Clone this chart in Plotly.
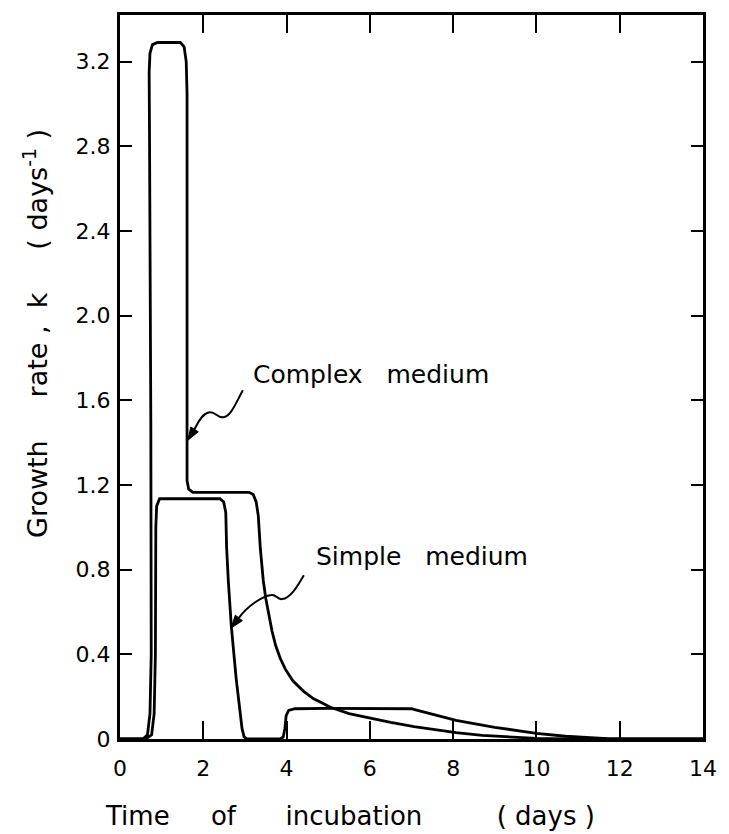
import plotly.graph_objects as go

# ---- data ----
complex_x = [0, 0.55, 0.66, 0.72, 0.75, 0.74, 0.71, 0.70, 0.72, 0.78, 0.9, 1.45, 1.54, 1.59, 1.61, 1.61, 1.60, 1.61, 1.65, 1.75,
             3.1, 3.2, 3.27, 3.32, 3.37, 3.44, 3.5, 3.56, 3.65, 3.74, 3.85, 3.97, 4.15, 4.41, 4.65, 4.88, 5.05, 5.5, 6.06, 6.5,
             7.06, 7.5, 8.07, 8.7, 9.3, 10.0, 10.7, 14.0]
complex_y = [0, 0, 0.02, 0.12, 0.4, 1.5, 2.8, 3.15, 3.24, 3.28, 3.29, 3.29, 3.27, 3.2, 3.05, 2.2, 1.4, 1.22, 1.18, 1.165,
             1.165, 1.155, 1.12, 1.056, 0.90, 0.75, 0.665, 0.595, 0.51, 0.44, 0.38, 0.33, 0.275, 0.225, 0.19, 0.168, 0.15,
             0.12, 0.096, 0.078, 0.058, 0.045, 0.03, 0.017, 0.009, 0.003, 0, 0]

simple_x = [0, 0.62, 0.76, 0.82, 0.85, 0.86, 0.88, 0.95, 2.4, 2.49, 2.54, 2.56, 2.6, 2.675, 2.79, 2.87, 2.93, 2.98, 3.05,
            3.85, 3.92, 3.96, 3.99, 4.05, 4.2, 5.0, 7.0, 7.1, 8.07, 9.0, 9.5, 10.0, 10.7, 11.3, 11.7, 12.2, 14.0]
simple_y = [0, 0, 0.02, 0.12, 0.4, 1.0, 1.1, 1.135, 1.135, 1.12, 1.07, 0.906, 0.75, 0.528, 0.285, 0.145, 0.05, 0.01, 0,
            0, 0.01, 0.05, 0.11, 0.135, 0.143, 0.145, 0.143, 0.138, 0.088, 0.055, 0.04, 0.027, 0.013, 0.005, 0.002, 0, 0]

x_ticks = [0, 2, 4, 6, 8, 10, 12, 14]
x_tick_labels = ["0", "2", "4", "6", "8", "10", "12", "14"]
y_ticks = [0, 0.4, 0.8, 1.2, 1.6, 2.0, 2.4, 2.8, 3.2]
y_tick_labels = ["0", "0.4", "0.8", "1.2", "1.6", "2.0", "2.4", "2.8", "3.2"]

FONT = "DejaVu Sans"
NB = "\u00a0"

fig = go.Figure()
fig.add_trace(go.Scatter(x=complex_x, y=complex_y, mode="lines", name="Complex medium",
                         line=dict(color="black", width=2.8), showlegend=False))
fig.add_trace(go.Scatter(x=simple_x, y=simple_y, mode="lines", name="Simple medium",
                         line=dict(color="black", width=2.8), showlegend=False))

# wavy pointer lines with arrowheads
fig.add_shape(type="path", xref="x", yref="y",
              path="M 2.951,1.647 C 2.786,1.590 2.668,1.524 2.479,1.520 C 2.337,1.515 2.290,1.548 2.148,1.543 "
                   "C 1.983,1.538 1.880,1.500 1.789,1.463",
              line=dict(color="black", width=2))
fig.add_shape(type="path", xref="x", yref="y",
              path="M 1.629,1.411 L 1.879,1.451 L 1.700,1.474 Z",
              line=dict(color="black", width=1), fillcolor="black")
fig.add_shape(type="path", xref="x", yref="y",
              path="M 4.415,0.774 C 4.249,0.717 4.084,0.665 3.895,0.661 C 3.777,0.656 3.754,0.684 3.635,0.680 "
                   "C 3.423,0.675 3.069,0.630 2.854,0.572",
              line=dict(color="black", width=2))
fig.add_shape(type="path", xref="x", yref="y",
              path="M 2.668,0.524 L 2.939,0.559 L 2.769,0.585 Z",
              line=dict(color="black", width=1), fillcolor="black")

fig.add_annotation(x=3.14, y=1.72, xref="x", yref="y", xanchor="left", yanchor="middle",
                   text="Complex" + NB * 3 + "medium", showarrow=False,
                   font=dict(family=FONT, size=25, color="black"))
fig.add_annotation(x=4.65, y=0.86, xref="x", yref="y", xanchor="left", yanchor="middle",
                   text="Simple" + NB * 3 + "medium", showarrow=False,
                   font=dict(family=FONT, size=25, color="black"))

# axis titles
fig.add_annotation(x=-0.145, y=0.56, xref="paper", yref="paper", xanchor="center", yanchor="middle",
                   textangle=-90, showarrow=False,
                   text="Growth" + NB * 5 + "rate" + NB + "," + NB * 2 + "k" + NB * 5 + "(" + NB + "days<sup>-1</sup>" + NB + ")",
                   font=dict(family=FONT, size=27, color="black"))
fig.add_annotation(x=-0.030, y=-0.106, xref="paper", yref="paper", xanchor="left", yanchor="middle",
                   showarrow=False,
                   text="Time" + NB * 5 + "of" + NB * 6 + "incubation" + NB * 9 + "(" + NB + "days" + NB + ")",
                   font=dict(family=FONT, size=26, color="black"))

fig.update_xaxes(range=[0, 14], tickvals=x_ticks, ticktext=x_tick_labels,
                 ticks="inside", ticklen=18, tickwidth=2, tickcolor="black",
                 showline=True, linewidth=3, linecolor="black", mirror="ticks",
                 showgrid=False, zeroline=False, ticklabelstandoff=8,
                 tickfont=dict(family=FONT, size=22, color="black"))
fig.update_yaxes(range=[0, 3.42], tickvals=y_ticks, ticktext=y_tick_labels,
                 ticks="inside", ticklen=12, tickwidth=2, tickcolor="black",
                 showline=True, linewidth=3, linecolor="black", mirror="ticks",
                 showgrid=False, zeroline=False, ticklabelstandoff=2,
                 tickfont=dict(family=FONT, size=22, color="black"))

fig.update_layout(width=729, height=834, margin=dict(l=120, r=16, t=14, b=95),
                  plot_bgcolor="white", paper_bgcolor="white", showlegend=False)

fig.write_html("out.html")
